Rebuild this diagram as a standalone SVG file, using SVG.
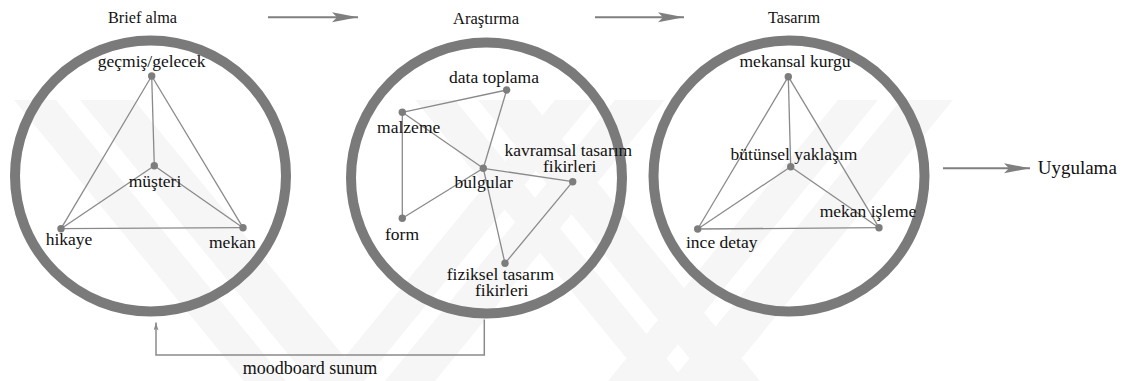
<svg xmlns="http://www.w3.org/2000/svg" width="1126" height="381" viewBox="0 0 1126 381">
  <defs>
    <style>
      text { font-family: Liberation Serif, Times New Roman, Tinos, DejaVu Serif, Noto Serif, serif; fill: #111; }
      .title { font-size: 17px; }
      .lbl { font-size: 17.5px; }
      .ring { fill: none; stroke: #7a7a7a; stroke-width: 10; }
      .edge { stroke: #8a8a8a; stroke-width: 1.3; fill: none; }
      .dot { fill: #7d7d7d; }
      .flow { stroke: #7f7f7f; stroke-width: 2; fill: none; }
      .back { stroke: #8a8a8a; stroke-width: 1.5; fill: none; }
      .wm { fill: #f6f6f6; }
    </style>
    <marker id="stealth" markerUnits="userSpaceOnUse" markerWidth="27" markerHeight="11" refX="26" refY="5" orient="auto">
      <path d="M0,0 L26,5 L0,10 L5,5 Z" fill="#7f7f7f"/>
    </marker>
    <marker id="tip" markerUnits="userSpaceOnUse" markerWidth="9" markerHeight="6" refX="8" refY="2.5" orient="auto">
      <path d="M0,0 L8,2.5 L0,5 L2,2.5 Z" fill="#8a8a8a"/>
    </marker>
  </defs>

  <rect width="1126" height="381" fill="#ffffff"/>

  <!-- faint background emblem: hollow diagonal bands -->
  <g id="emblem">
    <polygon class="wm" points="14,100 56,100 286,381 244,381"/>
    <polygon class="wm" points="80,100 134,100 364,381 310,381"/>
    <polygon class="wm" points="555,100 594,100 364,381 325,381"/>
    <polygon class="wm" points="615,100 665,100 435,381 385,381"/>
    <polygon class="wm" points="415,100 455,100 685,381 645,381"/>
    <polygon class="wm" points="478,100 530,100 760,381 708,381"/>
    <polygon class="wm" points="838,100 878,100 648,381 608,381"/>
    <polygon class="wm" points="901,100 953,100 723,381 671,381"/>
  </g>

  <!-- stage titles -->
  <g id="titles">
    <text class="title" x="108" y="23" textLength="69" lengthAdjust="spacingAndGlyphs">Brief alma</text>
    <text class="title" x="453" y="24" textLength="66" lengthAdjust="spacingAndGlyphs">Araştırma</text>
    <text class="title" x="768" y="23.3" textLength="52" lengthAdjust="spacingAndGlyphs">Tasarım</text>
  </g>

  <!-- stage rings -->
  <g id="stage-brief"><circle class="ring" cx="150.5" cy="176" r="135.5"/></g>
  <g id="stage-arastirma"><circle class="ring" cx="486.5" cy="178" r="135.5"/></g>
  <g id="stage-tasarim"><circle class="ring" cx="789" cy="176" r="135.5"/></g>

  <!-- connectors -->
  <g id="connectors">
    <!-- Brief alma -->
    <line class="edge" x1="151.7" y1="76" x2="61" y2="228.7"/>
    <line class="edge" x1="151.7" y1="76" x2="243" y2="227.7"/>
    <line class="edge" x1="151.7" y1="76" x2="154.3" y2="165.7"/>
    <line class="edge" x1="154.3" y1="165.7" x2="61" y2="228.7"/>
    <line class="edge" x1="154.3" y1="165.7" x2="243" y2="227.7"/>
    <line class="edge" x1="61" y1="228.7" x2="243" y2="227.7"/>
    <!-- Araştırma -->
    <line class="edge" x1="402.3" y1="112.3" x2="506.7" y2="90"/>
    <line class="edge" x1="506.7" y1="90" x2="483.3" y2="168.3"/>
    <line class="edge" x1="402.3" y1="112.3" x2="483.3" y2="168.3"/>
    <line class="edge" x1="402.3" y1="112.3" x2="402.3" y2="218.3"/>
    <line class="edge" x1="402.3" y1="218.3" x2="483.3" y2="168.3"/>
    <line class="edge" x1="483.3" y1="168.3" x2="572.7" y2="181.7"/>
    <line class="edge" x1="572.7" y1="181.7" x2="505" y2="263.3"/>
    <line class="edge" x1="483.3" y1="168.3" x2="505" y2="263.3"/>
    <!-- Tasarım -->
    <line class="edge" x1="788.3" y1="76.7" x2="697.7" y2="229"/>
    <line class="edge" x1="788.3" y1="76.7" x2="790.7" y2="166.7"/>
    <line class="edge" x1="788.3" y1="76.7" x2="879" y2="227.7"/>
    <line class="edge" x1="790.7" y1="166.7" x2="697.7" y2="229"/>
    <line class="edge" x1="790.7" y1="166.7" x2="879" y2="227.7"/>
    <line class="edge" x1="697.7" y1="229" x2="879" y2="227.7"/>
    <!-- process flow -->
    <line class="flow" x1="268" y1="17.3" x2="358" y2="17.3" marker-end="url(#stealth)"/>
    <line class="flow" x1="595" y1="17.3" x2="684" y2="17.3" marker-end="url(#stealth)"/>
    <line class="flow" x1="943" y1="168.3" x2="1030" y2="168.3" marker-end="url(#stealth)"/>
    <!-- feedback loop -->
    <path class="back" d="M484.3,319.5 V355 H156 V322.5" marker-end="url(#tip)"/>
    <text x="310" y="374" text-anchor="middle" font-size="18">moodboard sunum</text>
  </g>

  <!-- Brief alma nodes -->
  <g id="n-gecmis"><circle class="dot" cx="151.7" cy="76" r="3.7"/><text class="lbl" x="151.7" y="67" text-anchor="middle">geçmiş/gelecek</text></g>
  <g id="n-musteri"><circle class="dot" cx="154.3" cy="165.7" r="3.7"/><text class="lbl" x="155" y="186.5" text-anchor="middle">müşteri</text></g>
  <g id="n-hikaye"><circle class="dot" cx="61" cy="228.7" r="3.7"/><text class="lbl" x="45.7" y="245">hikaye</text></g>
  <g id="n-mekan"><circle class="dot" cx="243" cy="227.7" r="3.7"/><text class="lbl" x="209" y="248">mekan</text></g>

  <!-- Araştırma nodes -->
  <g id="n-data"><circle class="dot" cx="506.7" cy="90" r="3.7"/><text class="lbl" x="494" y="83.3" text-anchor="middle">data toplama</text></g>
  <g id="n-malzeme"><circle class="dot" cx="402.3" cy="112.3" r="3.7"/><text class="lbl" x="408.7" y="132.7" text-anchor="middle">malzeme</text></g>
  <g id="n-bulgular"><circle class="dot" cx="483.3" cy="168.3" r="3.7"/><text class="lbl" x="483.7" y="188.3" text-anchor="middle">bulgular</text></g>
  <g id="n-kavramsal"><circle class="dot" cx="572.7" cy="181.7" r="3.7"/><text class="lbl" x="568.3" y="155.5" text-anchor="middle">kavramsal tasarım</text><text class="lbl" x="569.7" y="172" text-anchor="middle">fikirleri</text></g>
  <g id="n-form"><circle class="dot" cx="402.3" cy="218.3" r="3.7"/><text class="lbl" x="402" y="240" text-anchor="middle">form</text></g>
  <g id="n-fiziksel"><circle class="dot" cx="505" cy="263.3" r="3.7"/><text class="lbl" x="500.5" y="279.5" text-anchor="middle">fiziksel tasarım</text><text class="lbl" x="501.7" y="296" text-anchor="middle">fikirleri</text></g>

  <!-- Tasarım nodes -->
  <g id="n-kurgu"><circle class="dot" cx="788.3" cy="76.7" r="3.7"/><text class="lbl" x="795" y="66.7" text-anchor="middle">mekansal kurgu</text></g>
  <g id="n-butunsel"><circle class="dot" cx="790.7" cy="166.7" r="3.7"/><text class="lbl" x="794" y="160" text-anchor="middle">bütünsel yaklaşım</text></g>
  <g id="n-ince"><circle class="dot" cx="697.7" cy="229" r="3.7"/><text class="lbl" x="686" y="248.3">ince detay</text></g>
  <g id="n-isleme"><circle class="dot" cx="879" cy="227.7" r="3.7"/><text class="lbl" x="868" y="216.7" text-anchor="middle">mekan işleme</text></g>

  <!-- final stage -->
  <g id="n-uygulama"><text x="1037.7" y="174.3" font-size="19">Uygulama</text></g>
</svg>
